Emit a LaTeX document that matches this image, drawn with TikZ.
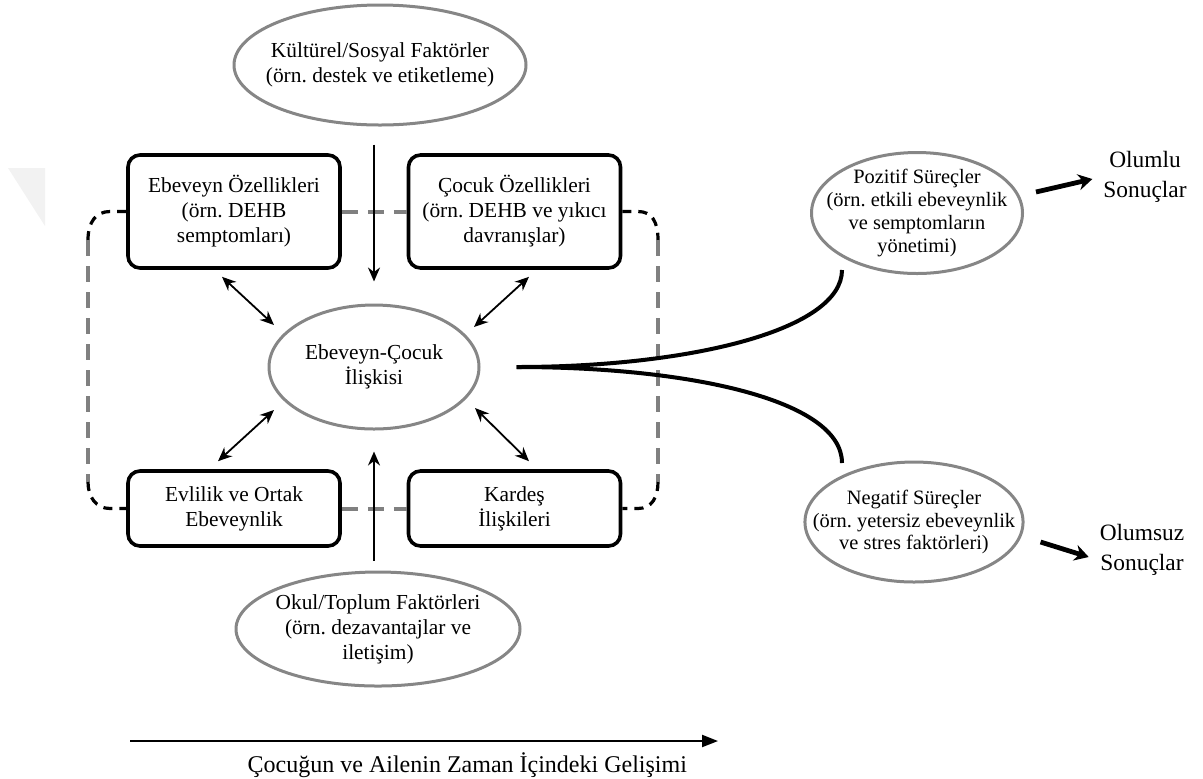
\documentclass[tikz,border=0pt]{standalone}
\usepackage{fontspec}
\setmainfont{Liberation Serif}
\usetikzlibrary{positioning, calc, shapes.geometric, arrows.meta}
\frenchspacing

\tikzset{
  factor/.style={ellipse, draw=gray!95, line width=1.5pt, align=center, inner xsep=-12pt, inner ysep=-6pt},
  famblock/.style={draw, line width=1.8pt, rounded corners=6pt, align=center, minimum width=106pt},
  link/.style={draw=gray, line width=2pt, dash pattern=on 8pt off 5pt},
  linkend/.style={draw=black, line width=1.6pt, dash pattern=on 4.5pt off 3.5pt},
  dbl/.style={{Stealth[length=7pt,width=6pt]}-{Stealth[length=7pt,width=6pt]}, line width=0.9pt},
  vert/.style={-{Stealth[length=7pt,width=6pt]}, line width=1pt},
  branch/.style={line width=2pt},
  heavy/.style={-{Stealth[length=7pt,width=8pt]}, line width=2.4pt},
}

\begin{document}
\begin{tikzpicture}[x=0.5pt, y=-0.5pt, font=\fontsize{10.7}{12.5}\selectfont]
  \useasboundingbox (0,0) rectangle (1203,778);
  % faint mark top left
  \fill[black!5] (8,168) -- (45,168) -- (45,226) -- cycle;
  % Context factors
  \node[factor, minimum width=146pt, minimum height=60pt] (culture) at (380,65) {Kültürel/Sosyal Faktörler\\(örn. destek ve etiketleme)};
  \node[factor, minimum width=142pt, minimum height=57pt] (school) at (378,629) {Okul/Toplum Faktörleri\\(örn. dezavantajlar ve\\iletişim)};
  % Family blocks
  \node[famblock, minimum height=56.5pt] (parent) at (234,211.5) {Ebeveyn Özellikleri\\(örn. DEHB\\semptomları)};
  \node[famblock, minimum height=56.5pt] (child) at (514.5,211.5) {Çocuk Özellikleri\\(örn. DEHB ve yıkıcı\\davranışlar)};
  \node[famblock, minimum height=37.5pt] (marital) at (234,508.5) {Evlilik ve Ortak\\Ebeveynlik};
  \node[famblock, minimum height=37.5pt] (sibling) at (514.5,508.5) {Kardeş\\İlişkileri};
  % Centre
  \node[factor, minimum width=105pt, minimum height=62pt] (pcr) at (374,367) {Ebeveyn-Çocuk\\İlişkisi};
  % Processes
  \node[factor, minimum width=105.5pt, minimum height=60.5pt, font=\fontsize{10.2}{11.4}\selectfont] (pos) at (917,213) {Pozitif Süreçler\\(örn. etkili ebeveynlik\\ve semptomların\\yönetimi)};
  \node[factor, minimum width=102.5pt, minimum height=60pt, font=\fontsize{10.2}{11.4}\selectfont] (neg) at (914,522) {Negatif Süreçler\\(örn. yetersiz ebeveynlik\\ve stres faktörleri)};
  % Outcomes
  \node[font=\fontsize{11.7}{15}\selectfont, align=center] (good) at (1145,177) {Olumlu\\Sonuçlar};
  \node[font=\fontsize{11.7}{15}\selectfont, align=center] (bad) at (1142,550) {Olumsuz\\Sonuçlar};

  % Dashed links between blocks
  \draw[link] (parent.east) -- (child.west);
  \draw[link] (marital.east) -- (sibling.west);
  \coordinate (lt) at (88,240);
  \coordinate (lb) at (88,482);
  \coordinate (rt) at (658,240);
  \coordinate (rb) at (658,482);
  \draw[linkend] (parent.west) -- (110,211.5) .. controls (96,211.5) and (88,222) .. (lt);
  \draw[link] (lt) -- (lb);
  \draw[linkend] (lb) .. controls (88,497) and (96,508.5) .. (110,508.5) -- (marital.west);
  \draw[linkend] (child.east) -- (638,211.5) .. controls (652,211.5) and (658,222) .. (rt);
  \draw[link] (rt) -- (rb);
  \draw[linkend] (rb) .. controls (658,497) and (652,508.5) .. (638,508.5) -- (sibling.east);

  % Influences on the relationship
  \draw[vert, shorten <=9pt, shorten >=11pt] (pcr.north |- culture.south) -- (pcr.north);
  \draw[vert, shorten <=5pt, shorten >=10.5pt] (pcr.south |- school.north) -- (pcr.south);
  \draw[dbl] ($(parent.south)+(-12,7)$) -- ($(pcr.center)+(-100,-42)$);
  \draw[dbl] ($(child.south)+(14.5,7)$) -- ($(pcr.center)+(100,-40)$);
  \draw[dbl] ($(marital.north)+(-16,-8)$) -- ($(pcr.center)+(-100,43)$);
  \draw[dbl] ($(sibling.north)+(14.5,-8)$) -- ($(pcr.center)+(101,41)$);

  % Fork to processes
  \coordinate (fork) at ($(pcr.east)+(36,0)$);
  \coordinate (posin) at ($(pos.center)+(-75,57)$);
  \coordinate (negin) at ($(neg.center)+(-72,-59)$);
  \draw[branch] (fork) .. controls (690,367) and (842,330) .. (posin);
  \draw[branch] (fork) .. controls (690,367) and (842,400) .. (negin);
  \draw[heavy] ($(pos.east)+(12,-21)$) -- ($(good.west)+(-4,2)$);
  \draw[heavy] ($(neg.east)+(16,20)$) -- ($(bad.west)+(-4,7)$);

  % Time axis
  \coordinate (t0) at (130,741);
  \coordinate (t1) at (718,741);
  \draw[-{Triangle[length=8pt,width=6pt]}, line width=1.1pt] (t0) -- (t1);
  \node[font=\fontsize{12}{14}\selectfont, anchor=east] (time) at (694,765) {Çocuğun ve Ailenin Zaman İçindeki Gelişimi};
\end{tikzpicture}
\end{document}
